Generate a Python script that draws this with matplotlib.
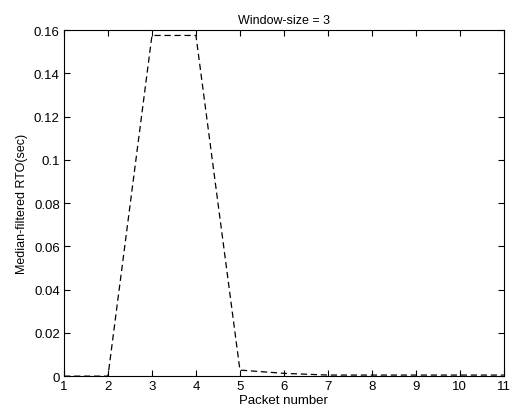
import matplotlib
matplotlib.use('Agg')
import matplotlib.pyplot as plt

# Median-filtered RTO per packet, window size 3
packets = [1, 2, 3, 4, 5, 6, 7, 8, 9, 10, 11]
rto = [0.0, 0.0, 0.1575, 0.1575, 0.0028, 0.0013, 0.0005, 0.0005, 0.0005, 0.0005, 0.0005]

plt.rcParams['font.family'] = ['Liberation Sans', 'DejaVu Sans']
plt.rcParams['font.size'] = 8

fig = plt.figure(figsize=(5.12, 4.14), dpi=100)
ax = fig.add_axes([0.125, 0.089, 0.859, 0.836])
ax.plot(packets, rto, 'k--', linewidth=0.9, dashes=(5, 3))

ax.set_xlim(1, 11)
ax.set_ylim(0, 0.16)
ax.set_xticks(range(1, 12))
ax.set_yticks([0, 0.02, 0.04, 0.06, 0.08, 0.1, 0.12, 0.14, 0.16])
ax.set_yticklabels(['0', '0.02', '0.04', '0.06', '0.08', '0.1', '0.12', '0.14', '0.16'])
ax.tick_params(direction='in', top=True, right=True, length=4, width=0.8, labelsize=9.5, pad=3)
for s in ax.spines.values():
    s.set_linewidth(0.8)

ax.set_xlabel('Packet number', fontsize=9.5, labelpad=1)
ax.set_ylabel('Median-filtered RTO(sec)', fontsize=9, labelpad=4)
ax.set_title('Window-size = 3', fontsize=9, pad=5)

fig.savefig('out.png', dpi=100)
